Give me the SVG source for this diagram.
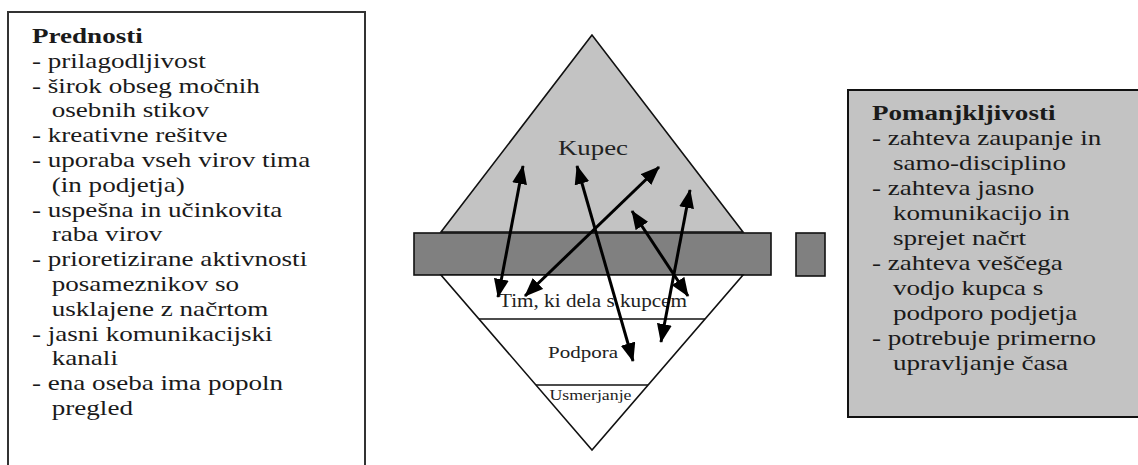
<svg xmlns="http://www.w3.org/2000/svg" width="1138" height="465" viewBox="0 0 1138 465">
<defs>
<style>
.t{font-family:"Liberation Serif","Times New Roman",serif;font-size:20px;fill:#1a1a1a}
.b{font-weight:bold}
.c{font-family:"Liberation Serif","Times New Roman",serif;fill:#222;text-anchor:middle}
.shape{stroke:#111;stroke-width:1.6}
.arr{stroke:#000;stroke-width:3;fill:none;marker-start:url(#ah);marker-end:url(#ah)}
</style>
<marker id="ah" viewBox="0 0 19 15" refX="18" refY="7.5" markerWidth="19" markerHeight="15" markerUnits="userSpaceOnUse" orient="auto-start-reverse">
<path d="M0,0 L19,7.5 L0,15 z" fill="#000"/>
</marker>
</defs>
<rect width="1138" height="465" fill="#fff"/>
<g id="prednosti">
<rect x="8" y="12" width="357" height="470" fill="#fff" stroke="#333" stroke-width="2"/>
<g transform="scale(1.355,1)">
<text class="t b" x="23.6" y="43">Prednosti</text>
<text class="t" x="23.6" y="67.8">- prilagodljivost</text>
<text class="t" x="23.6" y="92.6">- širok obseg močnih</text>
<text class="t" x="38.2" y="117.4">osebnih stikov</text>
<text class="t" x="23.6" y="142.2">- kreativne rešitve</text>
<text class="t" x="23.6" y="167">- uporaba vseh virov tima</text>
<text class="t" x="38.2" y="191.8">(in podjetja)</text>
<text class="t" x="23.6" y="216.6">- uspešna in učinkovita</text>
<text class="t" x="38.2" y="241.4">raba virov</text>
<text class="t" x="23.6" y="266.2">- prioretizirane aktivnosti</text>
<text class="t" x="38.2" y="291">posameznikov so</text>
<text class="t" x="38.2" y="315.8">usklajene z načrtom</text>
<text class="t" x="23.6" y="340.6">- jasni komunikacijski</text>
<text class="t" x="38.2" y="365.4">kanali</text>
<text class="t" x="23.6" y="390.2">- ena oseba ima popoln</text>
<text class="t" x="38.2" y="415">pregled</text>
</g>
</g>
<g id="kupec">
<polygon class="shape" points="592,35 441,232 743,232" fill="#c3c3c3"/>
<text class="c" x="593" y="155" font-size="21" textLength="70" lengthAdjust="spacingAndGlyphs">Kupec</text>
</g>
<g id="meja">
<rect class="shape" x="414" y="233" width="357" height="42" fill="#808080"/>
</g>
<g id="podjetje">
<polygon class="shape" points="441,275 743,275 592,450" fill="#fff"/>
<line class="shape" x1="479" y1="319" x2="705" y2="319"/>
<line class="shape" x1="536" y1="385" x2="648" y2="385"/>
<text class="c" x="593" y="307" font-size="18" textLength="188" lengthAdjust="spacingAndGlyphs">Tim, ki dela s kupcem</text>
<text class="c" x="583" y="358" font-size="17" textLength="70" lengthAdjust="spacingAndGlyphs">Podpora</text>
<text class="c" x="590.5" y="400" font-size="15" textLength="82" lengthAdjust="spacingAndGlyphs">Usmerjanje</text>
</g>
<g id="legenda">
<rect class="shape" x="796" y="233" width="29" height="43" fill="#808080"/>
</g>
<g id="pomanjkljivosti">
<rect x="848" y="90" width="295" height="327" fill="#c3c3c3" stroke="#111" stroke-width="2"/>
<g transform="scale(1.355,1)">
<text class="t b" x="643.5" y="120">Pomanjkljivosti</text>
<text class="t" x="643.5" y="145">- zahteva zaupanje in</text>
<text class="t" x="659" y="170">samo-disciplino</text>
<text class="t" x="643.5" y="195">- zahteva jasno</text>
<text class="t" x="659" y="220">komunikacijo in</text>
<text class="t" x="659" y="245">sprejet načrt</text>
<text class="t" x="643.5" y="270">- zahteva veščega</text>
<text class="t" x="659" y="295">vodjo kupca s</text>
<text class="t" x="659" y="320">podporo podjetja</text>
<text class="t" x="643.5" y="345">- potrebuje primerno</text>
<text class="t" x="659" y="370">upravljanje časa</text>
</g>
</g>
<g id="connectors">
<line class="arr" x1="498" y1="297" x2="523" y2="166"/>
<line class="arr" x1="577" y1="166" x2="633" y2="361"/>
<line class="arr" x1="659" y1="167" x2="525" y2="296"/>
<line class="arr" x1="632" y1="211" x2="688" y2="296"/>
<line class="arr" x1="690" y1="190" x2="661" y2="342"/>
</g>
</svg>
